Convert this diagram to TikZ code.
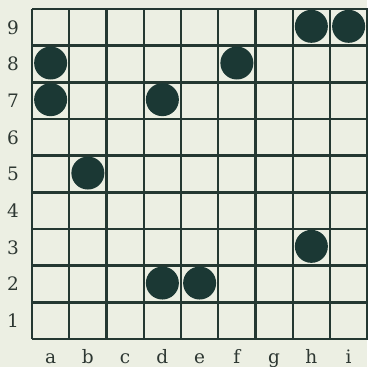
\documentclass[tikz,border=0pt]{standalone}
\usepackage{fontspec}
\setmainfont{DejaVu Serif}
\definecolor{bgc}{RGB}{236,239,227}
\definecolor{linec}{RGB}{36,56,50}
\definecolor{stonec}{RGB}{27,56,52}
\definecolor{textc}{RGB}{45,55,50}
\begin{document}
\begin{tikzpicture}[x=1pt,y=-1pt,
  gridline/.style={draw=linec,line width=2.4pt},
  stone/.style={circle,fill=stonec,minimum size=33pt,inner sep=0pt},
  lbl/.style={text=textc,font=\fontsize{18.5}{20}\selectfont,inner sep=0pt}]
\fill[bgc] (0,0) rectangle (367,367);
\useasboundingbox (0,0) rectangle (367,367);
% grid
\foreach \i in {0,...,9} {
  \draw[gridline] ({32+37.25*\i},9) -- ({32+37.25*\i},339);
  \draw[gridline] (32,{9+36.67*\i}) -- (368,{9+36.67*\i});
}
% column labels
\foreach \c [count=\k from 0] in {a,b,c,d,e,f,g,h,i}
  \node[lbl,anchor=base] (col\c) at ({32+37.25*(\k+0.5)},363) {\c};
% row labels
\foreach \r in {1,...,9}
  \node[lbl] (row\r) at (13,{9+36.67*(9-\r+0.5)}) {\r};
% stones
\foreach \c/\k/\r in {h/7/9,i/8/9,a/0/8,f/5/8,a/0/7,d/3/7,b/1/5,h/7/3,d/3/2,e/4/2}
  \node[stone] (s\c\r) at ({32+37.25*(\k+0.5)},{9+36.67*(9-\r+0.5)-1}) {};
\end{tikzpicture}
\end{document}
